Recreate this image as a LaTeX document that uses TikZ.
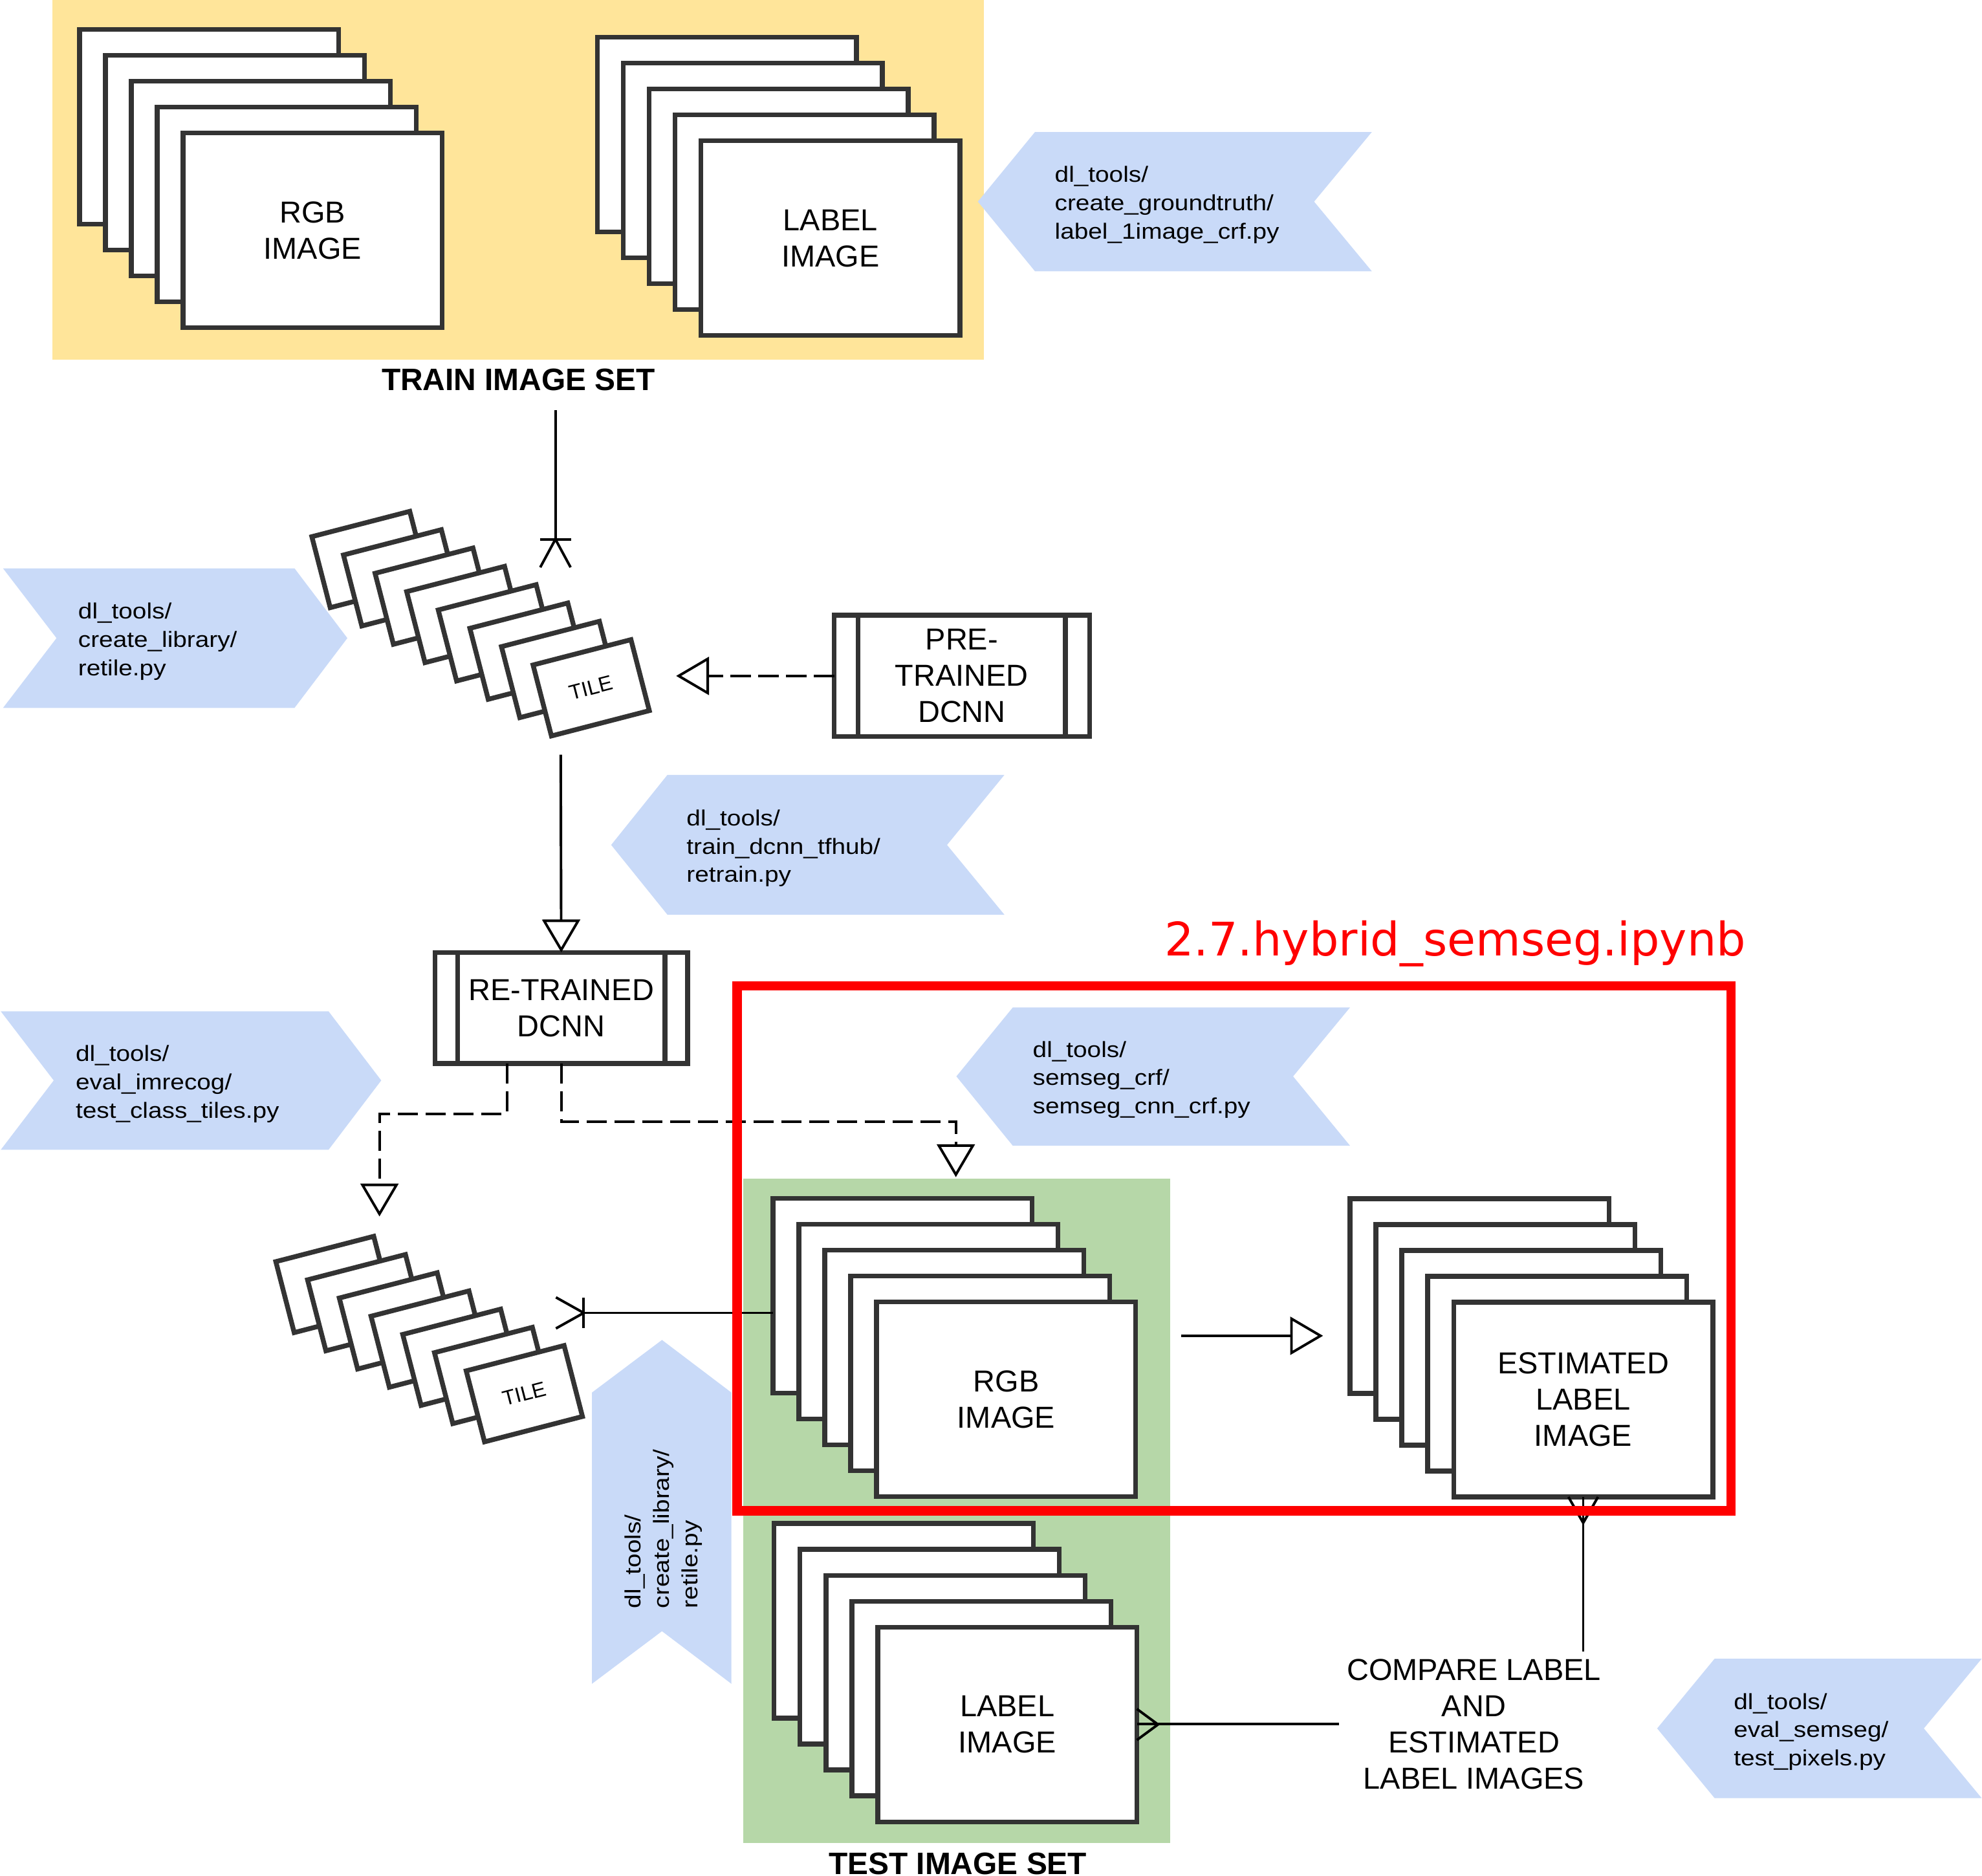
\documentclass[tikz,border=0pt]{standalone}
\usepackage{fontspec}
\setmainfont{Liberation Sans}
\newfontfamily\notefont[FakeStretch=1.14]{Liberation Sans}
\newfontfamily\titlefont{DejaVu Sans}
\usetikzlibrary{arrows.meta}
\definecolor{boxgray}{HTML}{333333}
\definecolor{trainyellow}{HTML}{FFE59A}
\definecolor{testgreen}{HTML}{B6D7A8}
\definecolor{noteblue}{HTML}{C9DAF8}
\tikzset{
  imgbox/.style={draw=boxgray, line width=3.8pt, fill=white, minimum width=205pt, minimum height=154pt,
    inner sep=0pt, outer sep=0pt, align=center, font=\fontsize{24}{28.6}\selectfont},
  tilebox/.style={draw=boxgray, line width=3.8pt, fill=white, minimum width=80pt, minimum height=58pt,
    inner sep=0pt, outer sep=0pt, rotate=14.5, font=\fontsize{16.5}{18}\selectfont},
  dcnnbox/.style={draw=boxgray, line width=3.8pt, fill=white, inner sep=0pt, outer sep=0pt,
    align=center, font=\fontsize{24}{28.6}\selectfont},
  note/.style={fill=noteblue},
  notetext/.style={anchor=west, align=left, inner sep=0pt, font=\notefont\fontsize{17.4}{22.4}\selectfont},
  setlabel/.style={inner sep=0pt, font=\bfseries\fontsize{24.5}{28}\selectfont},
  conn/.style={line width=2pt, black},
  flow/.style={conn, -{Triangle[open, length=26pt, width=30pt]}},
  dflow/.style={flow, dash pattern=on 16pt off 6pt},
}
\begin{document}
\begin{tikzpicture}[x=1pt,y=-1pt]
 \useasboundingbox (0,0) rectangle (1568,1484);
 % image set backgrounds
 \fill[trainyellow] (41.5,0) rectangle (778.5,284.3);
 \fill[testgreen] (588,932.4) rectangle (925.7,1458.1);
 % script notes
 \fill[note] (773.6,159.5) -- (818.8,104.4) -- (1085.3,104.4) -- (1039.6,159.5) -- (1085.3,214.6) -- (818.8,214.6) -- cycle;
 \node[notetext] (gt note) at (834.3,162.2) {dl\_tools/\\create\_groundtruth/\\label\_1image\_crf.py};
 \fill[note] (2.4,449.6) -- (233,449.6) -- (274.8,504.8) -- (233,560) -- (2.4,560) -- (44.7,504.8) -- cycle;
 \node[notetext] (retile note) at (61.7,507.5) {dl\_tools/\\create\_library/\\retile.py};
 \fill[note] (483.5,668.4) -- (528,613) -- (794.6,613) -- (749.2,668.4) -- (794.6,723.6) -- (528,723.6) -- cycle;
 \node[notetext] (retrain note) at (543,671.1) {dl\_tools/\\train\_dcnn\_tfhub/\\retrain.py};
 \fill[note] (0.6,800) -- (259.9,800) -- (301.6,854.7) -- (259.9,909.6) -- (0.6,909.6) -- (42.5,854.7) -- cycle;
 \node[notetext] (imrecog note) at (59.7,857.4) {dl\_tools/\\eval\_imrecog/\\test\_class\_tiles.py};
 \fill[note] (756.6,851.5) -- (801.2,797) -- (1068,797) -- (1023,851.5) -- (1068,906.3) -- (801.2,906.3) -- cycle;
 \node[notetext] (crf note) at (816.9,854.2) {dl\_tools/\\semseg\_crf/\\semseg\_cnn\_crf.py};
 \fill[note] (1311,1367.3) -- (1356.4,1312.2) -- (1567.7,1312.2) -- (1522,1367.3) -- (1567.7,1422.4) -- (1356.4,1422.4) -- cycle;
 \node[notetext] (pixels note) at (1371.4,1370) {dl\_tools/\\eval\_semseg/\\test\_pixels.py};
 \fill[note] (468.3,1101.6) -- (523.7,1060) -- (578.6,1101.6) -- (578.6,1332) -- (523.7,1290.4) -- (468.3,1332) -- cycle;
 \node[notetext, rotate=90] (retile note b) at (525,1272.4) {dl\_tools/\\create\_library/\\retile.py};
 % train image set
 \foreach \k in {4,3,2,1}
  \node[imgbox] (rgb train \k) at (247.4-20.5*\k,182.3-20.5*\k) {};
 \node[imgbox] (rgb train) at (247.4,182.3) {RGB\\IMAGE};
 \foreach \k in {4,3,2,1}
  \node[imgbox] (lbl train \k) at (657-20.5*\k,188.4-20.5*\k) {};
 \node[imgbox] (lbl train) at (657,188.4) {LABEL\\IMAGE};
 \node[setlabel] (train set) at (410.2,300.3) {TRAIN IMAGE SET};
 % tiles from train set
 \foreach \i in {1,...,7}
  \node[tilebox] (tile a\i) at (292.7+25*\i-25,442.6+14.5*\i-14.5) {};
 \node[tilebox] (tile a8) at (467.7,544.1) {TILE};
 % dcnn boxes
 \node[dcnnbox, minimum width=202pt, minimum height=96pt] (pre dcnn) at (760.9,534.7) {PRE-\\TRAINED\\DCNN};
 \draw[boxgray, line width=3.8pt] ([xshift=19pt]pre dcnn.north west) -- ([xshift=19pt]pre dcnn.south west);
 \draw[boxgray, line width=3.8pt] ([xshift=-19pt]pre dcnn.north east) -- ([xshift=-19pt]pre dcnn.south east);
 \node[dcnnbox, minimum width=200pt, minimum height=88pt] (re dcnn) at (444,797.4) {RE-TRAINED\\DCNN};
 \draw[boxgray, line width=3.8pt] ([xshift=18pt]re dcnn.north west) -- ([xshift=18pt]re dcnn.south west);
 \draw[boxgray, line width=3.8pt] ([xshift=-18pt]re dcnn.north east) -- ([xshift=-18pt]re dcnn.south east);
 % tiles from test set
 \foreach \i in {1,...,6}
  \node[tilebox] (tile b\i) at (264.2+25.1*\i-25.1,1016.1+14.4*\i-14.4) {};
 \node[tilebox] (tile b7) at (414.8,1102.5) {TILE};
 % test image set
 \foreach \k in {4,3,2,1}
  \node[imgbox] (rgb test \k) at (796-20.5*\k,1107-20.5*\k) {};
 \node[imgbox] (rgb test) at (796,1107) {RGB\\IMAGE};
 \foreach \k in {4,3,2,1}
  \node[imgbox] (lbl test \k) at (796.9-20.5*\k,1364.2-20.5*\k) {};
 \node[imgbox] (lbl test) at (796.9,1364.2) {LABEL\\IMAGE};
 \node[setlabel] (test set) at (757.7,1474.3) {TEST IMAGE SET};
 % estimated labels
 \foreach \k in {4,3,2,1}
  \node[imgbox] (est \k) at (1252.5-20.5*\k,1107.2-20.5*\k) {};
 \node[imgbox] (est) at (1252.5,1107.2) {ESTIMATED\\LABEL\\IMAGE};
 \node[align=center, inner sep=6pt, font=\fontsize{24}{28.6}\selectfont] (compare) at (1166,1364) {COMPARE LABEL\\AND\\ESTIMATED\\LABEL IMAGES};
 % connectors
 \coordinate (train out) at (439.4,324.6);
 \coordinate (tiles a in) at (439.4,426.6);
 \coordinate (tiles a out) at (443.6,597);
 \coordinate (tiles a side) at (534.9,534.7);
 \coordinate (tiles b in) at (300.2,962.3);
 \coordinate (tiles b side) at (461.8,1038.6);
 \coordinate (rgb test in) at (756.2,931.2);
 \coordinate (est start) at (934.5,1056.7);
 \coordinate (est in) at (1046.7,1056.7);
 \draw[conn] (train out) -- (tiles a in);
 \draw[conn] (tiles a in) ++(-12.3,0) -- ++(24.6,0);
 \draw[conn] (tiles a in) -- ++(-12,22.2) (tiles a in) -- ++(12,22.2);
 \draw[dflow] (pre dcnn.west) -- (tiles a side);
 \draw[flow] (tiles a out) -- (re dcnn.north);
 \draw[dflow] ([xshift=-43pt]re dcnn.south) -- ++(0,39.8) -| (tiles b in);
 \draw[dflow] (re dcnn.south) -- ++(0,46) -| (rgb test in);
 \draw[conn] (rgb test 4.west |- tiles b side) -- (tiles b side);
 \draw[conn] (tiles b side) ++(0,-12.1) -- ++(0,24.2);
 \draw[conn] (tiles b side) -- ++(-22,-12.3) (tiles b side) -- ++(-22,12.3);
 \draw[flow] (est start) -- (est in);
 \draw[conn] (compare.north -| est.south) -- (est.south);
 \draw[conn] ([xshift=-11.7pt]est.south) -- ++(11.7,20.5) -- ++(11.7,-20.5);
 \draw[conn] (compare.west) -- (compare.west -| lbl test.east);
 \draw[conn] (lbl test.east) ++(0,-12.3) -- ++(16.7,12.3) -- ++(-16.7,12.3);
 % notebook frame
 \draw[red, line width=7.4pt] (583.2,779.9) rectangle (1369.4,1195.2);
 \node[anchor=base west, inner sep=0pt, text=red, font=\titlefont\fontsize{36.6}{40}\selectfont] (nb title) at (921,756.2) {2.7.hybrid\_semseg.ipynb};
\end{tikzpicture}
\end{document}
